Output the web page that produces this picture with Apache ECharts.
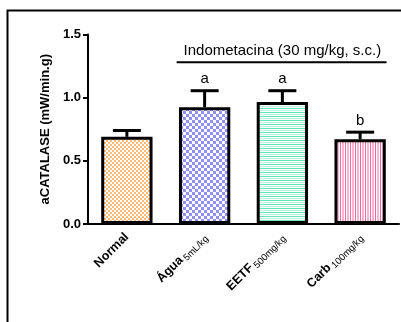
<!DOCTYPE html>
<html><head><meta charset="utf-8">
<script src="https://cdn.jsdelivr.net/npm/echarts@6/dist/echarts.min.js"></script>
<style>html,body{margin:0;padding:0;background:#fff}#c{width:401px;height:322px}</style>
</head><body><div id="c"></div>
<script>
var categories = ['Normal', 'Água', 'EETF', 'Carb'];
var subscripts = ['', '5mL/kg', '500mg/kg', '100mg/kg'];
var means = [0.69, 0.925, 0.965, 0.67];
var sems = [0.05, 0.13, 0.09, 0.057];
var letters = ['', 'a', 'a', 'b'];
var yTicks = [0.0, 0.5, 1.0, 1.5];
var bracketFrom = 1, bracketTo = 3, bracketValue = 1.28, bracketTextValue = 1.37;
var bracketText = 'Indometacina (30 mg/kg, s.c.)';
var yTitle = 'aCATALASE (mW/min.g)';

function makePattern(w, h, draw) {
  var c = document.createElement('canvas'); c.width = w; c.height = h;
  var ctx = c.getContext('2d'); ctx.fillStyle = '#fff'; ctx.fillRect(0, 0, w, h);
  draw(ctx); return { image: c, repeat: 'repeat' };
}
var patterns = [
  makePattern(4, 4, function (g) { g.fillStyle = '#FDBA78'; g.fillRect(0,0,4,4); g.fillStyle='#fff'; g.fillRect(0,0,2,2); g.fillRect(2,2,2,2); }),
  makePattern(6, 6, function (g) { g.fillStyle = '#9090F6'; g.fillRect(0,0,3,3); g.fillRect(3,3,3,3); }),
  makePattern(4, 4, function (g) { g.fillStyle = '#66E6B6'; g.fillRect(0,0,4,1); g.fillStyle = '#B8F4DF'; g.fillRect(0,2,4,1); }),
  makePattern(5, 5, function (g) { g.fillStyle = '#F2689D'; g.fillRect(0,0,1,5); g.fillStyle = '#F8B6CE'; g.fillRect(2,0,2,5); })
];
var FONT = 'Arial, "Liberation Sans", sans-serif';

var chart = echarts.init(document.getElementById('c'), null, { renderer: 'canvas' });
chart.setOption({
  animation: false,
  graphic: [
    { type: 'polyline', shape: { points: [[7.5, 330], [7.5, 10.5], [410, 10.5]] }, style: { stroke: '#000', lineWidth: 2, fill: null } }
  ],
  grid: { left: 88, right: 2, top: 34.5, bottom: 98, containLabel: false },
  xAxis: {
    type: 'category', data: categories,
    axisLine: { lineStyle: { color: '#000', width: 2 } },
    axisTick: { alignWithLabel: true, length: 6, lineStyle: { color: '#000', width: 2 } },
    axisLabel: {
      rotate: 45, margin: 11, interval: 0,
      formatter: function (v, i) { return subscripts[i] ? '{m|' + v + '}{s|' + subscripts[i] + '}' : '{m|' + v + '}'; },
      rich: {
        m: { fontFamily: FONT, fontWeight: 'bold', fontSize: 12.5, color: '#000' },
        s: { fontFamily: FONT, fontSize: 9.5, color: '#000', verticalAlign: 'bottom', padding: [7, 0, 0, 2] }
      }
    }
  },
  yAxis: {
    type: 'value', min: 0, max: 1.5, interval: 0.5,
    name: yTitle, nameLocation: 'middle', nameGap: 36,
    nameTextStyle: { fontFamily: FONT, fontWeight: 'bold', fontSize: 13, color: '#000' },
    axisLine: { show: true, lineStyle: { color: '#000', width: 2 } },
    axisTick: { show: true, length: 5, lineStyle: { color: '#000', width: 2 } },
    splitLine: { show: false },
    axisLabel: { fontFamily: FONT, fontWeight: 'bold', fontSize: 13, color: '#000', margin: 7,
      formatter: function (v) { return v.toFixed(1); } }
  },
  series: [
    {
      type: 'bar', barWidth: '66%', z: 2,
      data: means.map(function (m, i) { return { value: m, itemStyle: { color: patterns[i] } }; }),
      itemStyle: { borderColor: '#000', borderWidth: 3 }
    },
    {
      type: 'custom', z: 3,
      data: means.map(function (m, i) { return [i, m, m + sems[i], letters[i]]; }),
      renderItem: function (params, api) {
        var base = api.coord([api.value(0), api.value(1)]);
        var top = api.coord([api.value(0), api.value(2)]);
        var bw = api.size([1, 0])[0];
        var cap = bw * 0.18;
        var children = [
          { type: 'line', shape: { x1: base[0], y1: base[1], x2: top[0], y2: top[1] }, style: { stroke: '#000', lineWidth: 3 } },
          { type: 'line', shape: { x1: top[0] - cap, y1: top[1], x2: top[0] + cap, y2: top[1] }, style: { stroke: '#000', lineWidth: 3 } }
        ];
        var letter = letters[params.dataIndex];
        if (letter) children.push({ type: 'text', style: { text: letter, x: top[0], y: top[1] - 4, align: 'center', verticalAlign: 'bottom', font: '15px ' + FONT, fill: '#000' } });
        return { type: 'group', children: children };
      }
    },
    {
      type: 'custom', z: 3,
      data: [[bracketFrom, bracketTo, bracketValue, bracketTextValue]],
      renderItem: function (params, api) {
        var a = api.coord([api.value(0), api.value(2)]);
        var b = api.coord([api.value(1), api.value(2)]);
        var t = api.coord([(api.value(0) + api.value(1)) / 2, api.value(3)]);
        var bw = api.size([1, 0])[0];
        return { type: 'group', children: [
          { type: 'line', shape: { x1: a[0] - bw * 0.36, y1: a[1], x2: b[0] + bw * 0.34, y2: b[1] }, style: { stroke: '#000', lineWidth: 2 } },
          { type: 'text', style: { text: bracketText, x: t[0], y: t[1], align: 'center', verticalAlign: 'middle', font: '15px ' + FONT, fill: '#000' } }
        ] };
      }
    }
  ]
});
</script></body></html>
